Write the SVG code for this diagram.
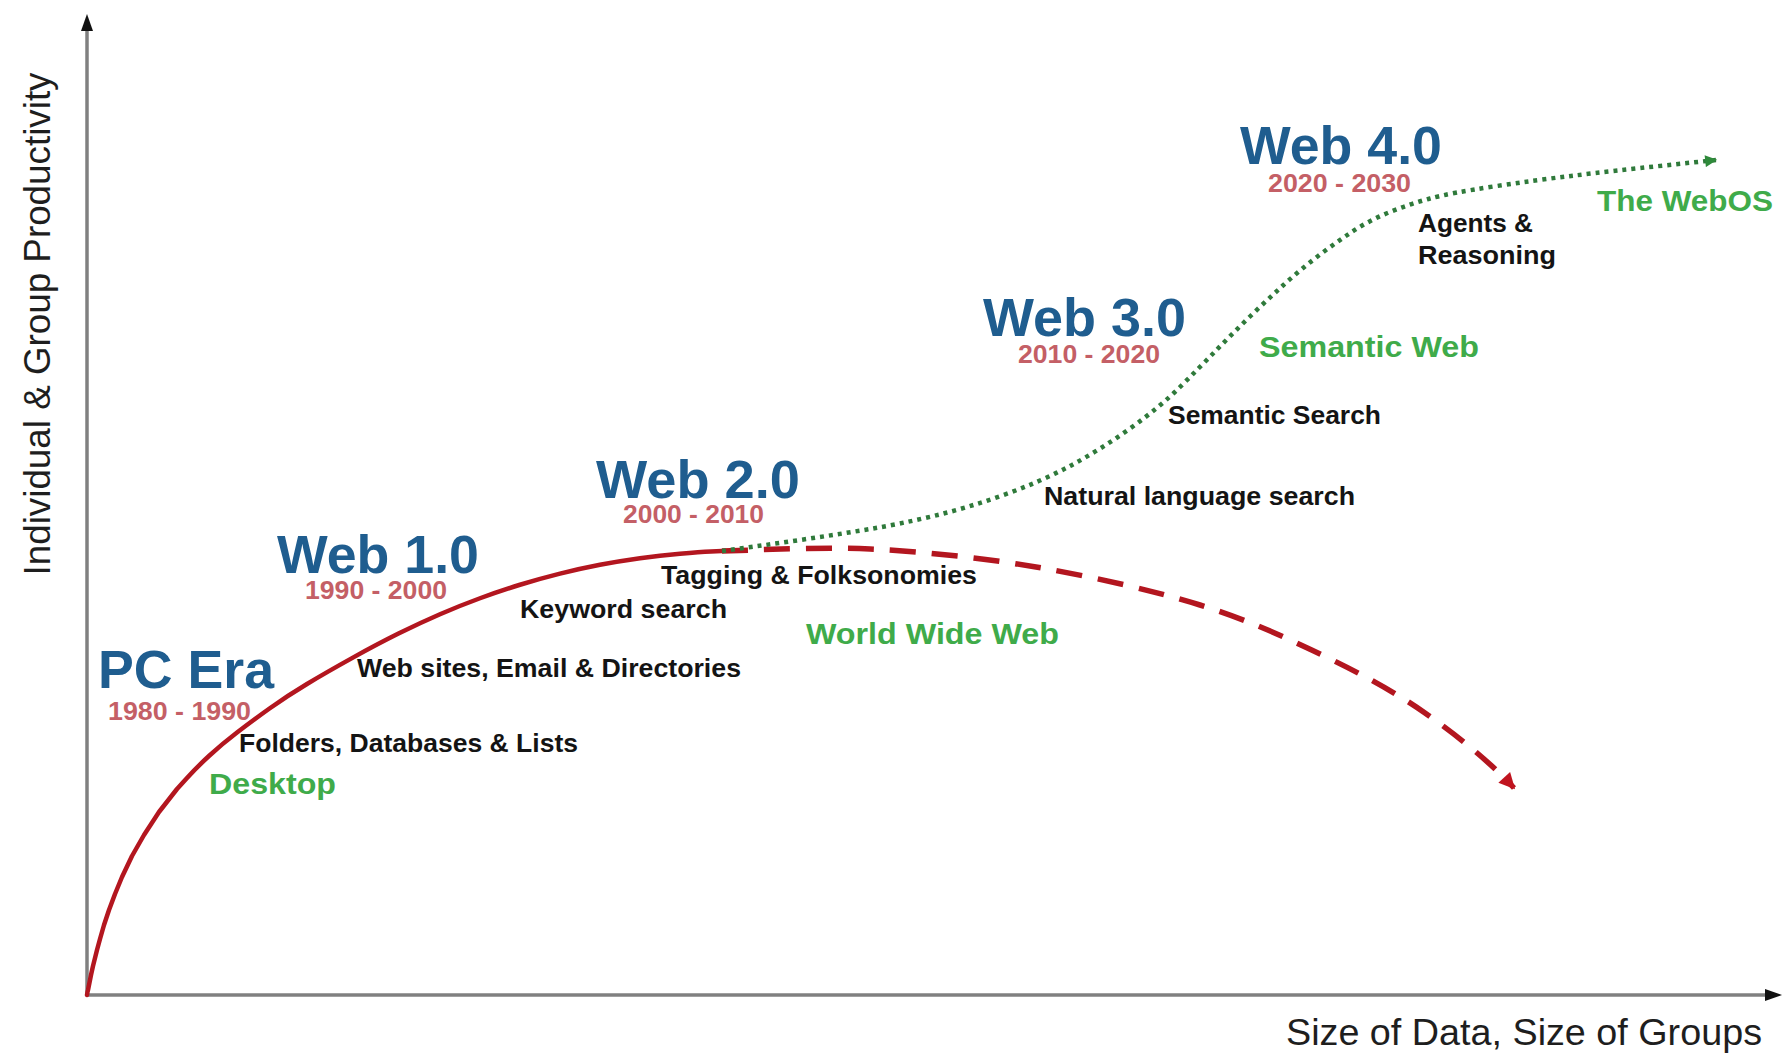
<svg xmlns="http://www.w3.org/2000/svg" width="1787" height="1060" viewBox="0 0 1787 1060">
<style>
text{font-family:"Liberation Sans",Arial,sans-serif}
.era{font-size:53px;font-weight:bold;fill:#1f5d8f}
.yr{font-size:26px;font-weight:bold;fill:#c45f66}
.lbl{font-size:25px;font-weight:bold;fill:#141414}
.grn{font-size:30px;font-weight:bold;fill:#3fab4a}
.ax{font-size:37px;fill:#1e1e1e}
.axis{stroke:#808080;stroke-width:3.5;fill:none}
.red{stroke:#b3161f;stroke-width:4.5;fill:none;stroke-linejoin:round;stroke-linecap:round}
.reddash{stroke:#b3161f;stroke-width:5.5;fill:none;stroke-dasharray:26 16}
.gdot{stroke:#2f7a3b;stroke-width:4.5;fill:none;stroke-dasharray:4 5}
</style>
<defs>
<marker id="arRed" viewBox="0 0 10 10" refX="9" refY="5" markerWidth="20" markerHeight="16" markerUnits="userSpaceOnUse" orient="auto"><path d="M0,0 L10,5 L0,10 z" fill="#c0141f"/></marker>
<marker id="arGreen" viewBox="0 0 10 10" refX="9" refY="5" markerWidth="15" markerHeight="12" markerUnits="userSpaceOnUse" orient="auto"><path d="M0,0 L10,5 L0,10 z" fill="#2f8a3b"/></marker>
</defs>
<rect width="1787" height="1060" fill="#ffffff"/>

<g id="axes">
<line class="axis" x1="87" y1="28" x2="87" y2="996"/>
<line class="axis" x1="86" y1="995" x2="1768" y2="995"/>
<polygon points="87,14 81,31 93,31" fill="#111"/>
<polygon points="1782,995 1765,989 1765,1001" fill="#111"/>
<text class="ax" transform="translate(50,324) rotate(-90)" text-anchor="middle" textLength="503" lengthAdjust="spacingAndGlyphs">Individual &amp; Group Productivity</text>
<text class="ax" x="1286" y="1045" textLength="476" lengthAdjust="spacingAndGlyphs">Size of Data, Size of Groups</text>
</g>

<g id="connectors">
<path id="curve-solid" class="red" d="M87,995 L87.5,992 L88,990 L89,985 L90,980 L91,975 L93,966 L95,958 L97,950 L100,939 L104,925 L109,910 L115,894 L122,877 L132,856 L144,835 L159,812 L177,789 L187,778 Q197,767 209.5,755.5 Q222,744 237,732.5 Q252,721 269.5,708.5 Q287,696 307,684 Q327,672 352,658.15 Q377,644.3 398.5,633.6 Q420,622.9 440,614.25 Q460,605.6 480,598.25 Q500,590.9 520,584.75 Q540,578.6 560,573.6 Q580,568.6 600,564.75 Q620,560.9 640,558.15 Q660,555.4 680,553.7 Q700,552 711,551.5 L722,551"/>
<path id="curve-decline" class="reddash" marker-end="url(#arRed)" d="M722,551 C746.7,550.5 817.7,546.5 870,549 C922.3,551.5 981,557.7 1036,567 C1091,576.3 1152.3,590.3 1200,605 C1247.7,619.7 1284.5,637 1322,655 C1359.5,673 1392.7,690.5 1425,713 C1457.3,735.5 1490,762 1514,788"/>
<path id="curve-growth" class="gdot" marker-end="url(#arGreen)" d="M722,551 L751,547 Q780,543 810,538.5 Q840,534 870,529 Q900,524 933.5,516 Q967,508 1003.5,495 Q1040,482 1070,466 Q1100,450 1130,428.5 Q1160,407 1180,387 Q1200,367 1216.5,350 Q1233,333 1250,316.5 Q1267,300 1283.5,285 Q1300,270 1317.5,256.5 Q1335,243 1352.5,231.5 Q1370,220 1390,212 Q1410,204 1430,198.5 Q1450,193 1493.5,186.5 Q1537,180 1574.5,175.5 Q1612,171 1664,165.5 L1716,160"/>
</g>

<g id="pc-era">
<text class="era" x="98" y="688" textLength="176" lengthAdjust="spacingAndGlyphs">PC Era</text>
<text class="yr" x="108" y="720" textLength="143" lengthAdjust="spacingAndGlyphs">1980 - 1990</text>
</g>
<g id="web1">
<text class="era" x="277" y="573" textLength="202" lengthAdjust="spacingAndGlyphs">Web 1.0</text>
<text class="yr" x="305" y="599" textLength="142" lengthAdjust="spacingAndGlyphs">1990 - 2000</text>
</g>
<g id="web2">
<text class="era" x="596" y="498" textLength="204" lengthAdjust="spacingAndGlyphs">Web 2.0</text>
<text class="yr" x="623" y="523" textLength="141" lengthAdjust="spacingAndGlyphs">2000 - 2010</text>
</g>
<g id="web3">
<text class="era" x="983" y="336" textLength="203" lengthAdjust="spacingAndGlyphs">Web 3.0</text>
<text class="yr" x="1018" y="363" textLength="142" lengthAdjust="spacingAndGlyphs">2010 - 2020</text>
</g>
<g id="web4">
<text class="era" x="1240" y="164" textLength="202" lengthAdjust="spacingAndGlyphs">Web 4.0</text>
<text class="yr" x="1268" y="192" textLength="143" lengthAdjust="spacingAndGlyphs">2020 - 2030</text>
</g>

<g id="folders"><text class="lbl" x="239" y="752" textLength="339" lengthAdjust="spacingAndGlyphs">Folders, Databases &amp; Lists</text></g>
<g id="desktop"><text class="grn" x="209" y="794" textLength="127" lengthAdjust="spacingAndGlyphs">Desktop</text></g>
<g id="websites"><text class="lbl" x="357" y="677" textLength="384" lengthAdjust="spacingAndGlyphs">Web sites, Email &amp; Directories</text></g>
<g id="keyword"><text class="lbl" x="520" y="618" textLength="207" lengthAdjust="spacingAndGlyphs">Keyword search</text></g>
<g id="tagging"><text class="lbl" x="661" y="584" textLength="316" lengthAdjust="spacingAndGlyphs">Tagging &amp; Folksonomies</text></g>
<g id="www"><text class="grn" x="806" y="644" textLength="253" lengthAdjust="spacingAndGlyphs">World Wide Web</text></g>
<g id="natural"><text class="lbl" x="1044" y="505" textLength="311" lengthAdjust="spacingAndGlyphs">Natural language search</text></g>
<g id="semsearch"><text class="lbl" x="1168" y="424" textLength="213" lengthAdjust="spacingAndGlyphs">Semantic Search</text></g>
<g id="semweb"><text class="grn" x="1259" y="357" textLength="220" lengthAdjust="spacingAndGlyphs">Semantic Web</text></g>
<g id="agents">
<text class="lbl" x="1418" y="232" textLength="115" lengthAdjust="spacingAndGlyphs">Agents &amp;</text>
<text class="lbl" x="1418" y="264" textLength="138" lengthAdjust="spacingAndGlyphs">Reasoning</text>
</g>
<g id="webos"><text class="grn" x="1597" y="211" textLength="176" lengthAdjust="spacingAndGlyphs">The WebOS</text></g>
</svg>
